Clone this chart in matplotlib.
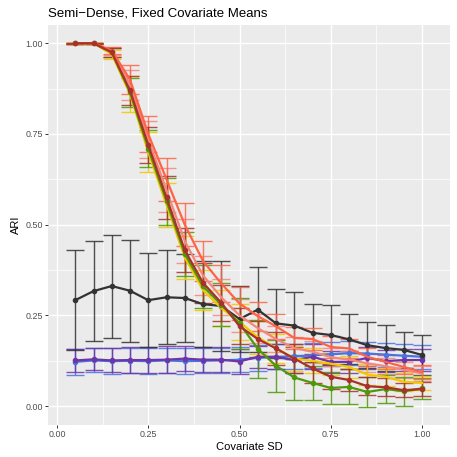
import numpy as np
import matplotlib
matplotlib.use("Agg")
import matplotlib.pyplot as plt

plt.rcParams['font.family'] = ['Liberation Sans', 'DejaVu Sans']

# covariate SD grid
cov_sd = [0.05, 0.10, 0.15, 0.20, 0.25, 0.30, 0.35, 0.40, 0.45, 0.50,
          0.55, 0.60, 0.65, 0.70, 0.75, 0.80, 0.85, 0.90, 0.95, 1.00]

# mean ARI and error half-widths
ari_gray = [0.292, 0.317, 0.331, 0.318, 0.292, 0.300, 0.298, 0.281, 0.276, 0.240,
            0.266, 0.228, 0.222, 0.202, 0.196, 0.184, 0.168, 0.160, 0.155, 0.141]
err_gray = [0.137, 0.138, 0.142, 0.140, 0.129, 0.130, 0.120, 0.119, 0.124, 0.090,
            0.117, 0.095, 0.093, 0.079, 0.082, 0.069, 0.063, 0.064, 0.050, 0.055]

ari_purple = [0.126, 0.129, 0.126, 0.127, 0.127, 0.128, 0.131, 0.128, 0.128, 0.123,
              0.136, 0.136, 0.127, 0.136, 0.122, 0.122, 0.133, 0.124, 0.127, 0.127]
err_purple = [0.032, 0.030, 0.033, 0.035, 0.035, 0.038, 0.035, 0.035, 0.035, 0.035,
              0.030, 0.035, 0.035, 0.035, 0.030, 0.030, 0.030, 0.030, 0.030, 0.030]

ari_blue = [0.122, 0.126, 0.124, 0.125, 0.124, 0.126, 0.124, 0.125, 0.126, 0.128,
            0.133, 0.136, 0.137, 0.140, 0.143, 0.146, 0.145, 0.142, 0.139, 0.136]
err_blue = [0.035, 0.033, 0.035, 0.035, 0.035, 0.035, 0.035, 0.035, 0.035, 0.035,
            0.035, 0.035, 0.035, 0.035, 0.033, 0.033, 0.033, 0.033, 0.033, 0.033]

ari_yellow = [1.0, 1.0, 0.970, 0.860, 0.700, 0.555, 0.410, 0.320, 0.270, 0.232,
              0.190, 0.160, 0.131, 0.125, 0.117, 0.108, 0.087, 0.081, 0.067, 0.064]
err_yellow = [0.002, 0.002, 0.012, 0.050, 0.055, 0.060, 0.060, 0.055, 0.050, 0.050,
              0.045, 0.040, 0.035, 0.035, 0.030, 0.030, 0.030, 0.025, 0.025, 0.020]

ari_green = [1.0, 1.0, 0.975, 0.865, 0.710, 0.565, 0.420, 0.330, 0.280, 0.228,
             0.158, 0.111, 0.079, 0.064, 0.050, 0.053, 0.039, 0.047, 0.041, 0.049]
err_green = [0.002, 0.002, 0.012, 0.040, 0.050, 0.065, 0.060, 0.060, 0.060, 0.070,
             0.080, 0.072, 0.062, 0.047, 0.045, 0.048, 0.041, 0.038, 0.040, 0.028]

ari_salmon = [1.0, 1.0, 0.978, 0.885, 0.735, 0.595, 0.455, 0.360, 0.300, 0.250,
              0.215, 0.185, 0.160, 0.150, 0.135, 0.128, 0.118, 0.110, 0.100, 0.090]
err_salmon = [0.002, 0.002, 0.010, 0.040, 0.050, 0.060, 0.060, 0.055, 0.050, 0.045,
              0.040, 0.035, 0.030, 0.030, 0.025, 0.025, 0.025, 0.022, 0.022, 0.022]

ari_tomato = [1.0, 1.0, 0.980, 0.900, 0.750, 0.625, 0.500, 0.400, 0.338, 0.283,
              0.248, 0.220, 0.188, 0.185, 0.163, 0.159, 0.136, 0.122, 0.108, 0.094]
err_tomato = [0.002, 0.002, 0.010, 0.040, 0.050, 0.060, 0.060, 0.055, 0.050, 0.045,
              0.040, 0.035, 0.030, 0.030, 0.030, 0.025, 0.025, 0.020, 0.020, 0.020]

ari_darkred = [1.0, 1.0, 0.975, 0.870, 0.720, 0.575, 0.430, 0.340, 0.285, 0.220,
               0.185, 0.159, 0.131, 0.104, 0.081, 0.072, 0.055, 0.052, 0.044, 0.047]
err_darkred = [0.002, 0.002, 0.012, 0.040, 0.050, 0.060, 0.060, 0.055, 0.050, 0.050,
               0.050, 0.045, 0.040, 0.040, 0.035, 0.030, 0.025, 0.025, 0.020, 0.020]

# (values, errors, colour, show points) in drawing order
series = [
    (ari_blue, err_blue, "#4A72E0", True),
    (ari_purple, err_purple, "#6E35A6", True),
    (ari_gray, err_gray, "#333333", True),
    (ari_salmon, err_salmon, "#F4877A", False),
    (ari_yellow, err_yellow, "#F2C800", False),
    (ari_green, err_green, "#4C9A0A", True),
    (ari_tomato, err_tomato, "#FF6347", False),
    (ari_darkred, err_darkred, "#A8322B", True),
]

fig = plt.figure(figsize=(4.57, 4.57), dpi=100)
ax = fig.add_axes([0.105, 0.070, 0.880, 0.875])
ax.set_facecolor("#EBEBEB")

for vals, errs, col, pts in series:
    ax.errorbar(cov_sd, vals, yerr=errs, fmt="none", ecolor=col, elinewidth=1.0,
                capsize=6.5, capthick=1.0, alpha=0.85, zorder=2)
    ax.plot(cov_sd, vals, color=col, lw=1.6, zorder=3,
            marker="o" if pts else None, markersize=3.0)

ax.set_xlim(-0.0247, 1.077)
ax.set_ylim(-0.052, 1.05)
ax.set_xticks([0.0, 0.25, 0.5, 0.75, 1.0])
ax.set_xticklabels(["0.00", "0.25", "0.50", "0.75", "1.00"])
ax.set_yticks([0.0, 0.25, 0.5, 0.75, 1.0])
ax.set_yticklabels(["0.00", "0.25", "0.50", "0.75", "1.00"])
ax.set_xticks([0.125, 0.375, 0.625, 0.875], minor=True)
ax.set_yticks([0.125, 0.375, 0.625, 0.875], minor=True)
ax.grid(which="major", color="white", lw=1.0)
ax.grid(which="minor", color="white", lw=0.5)
ax.set_axisbelow(True)
ax.tick_params(which="major", length=2.0, width=0.7, color="#333333",
               labelsize=6.4, labelcolor="#4D4D4D", pad=1.5)
ax.tick_params(which="minor", length=0)
for s in ax.spines.values():
    s.set_visible(False)

ax.set_xlabel("Covariate SD", fontsize=8, labelpad=2)
ax.set_ylabel("ARI", fontsize=8, labelpad=3)
ax.set_title("Semi\u2212Dense, Fixed Covariate Means", fontsize=9.5, loc="left", pad=6)

fig.savefig("out.png", dpi=100)
